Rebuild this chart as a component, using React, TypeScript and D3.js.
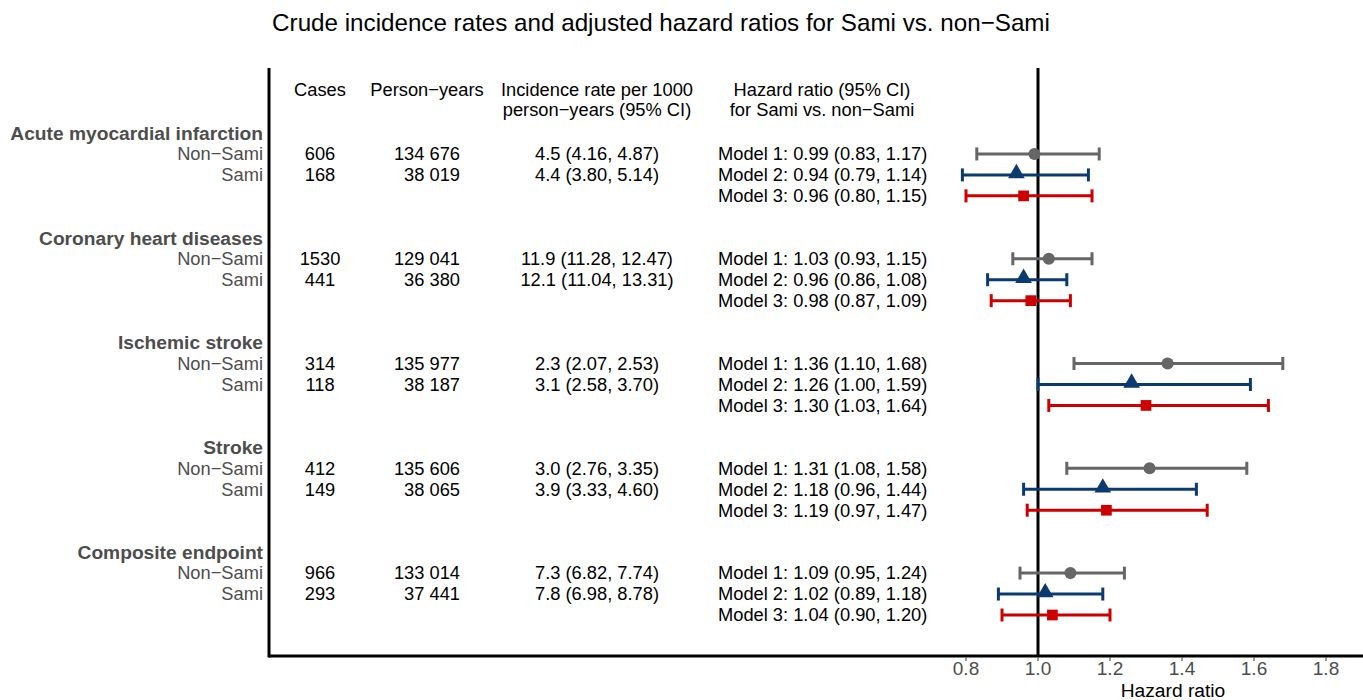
import { useEffect, useRef } from "react";
import * as d3 from "d3";

const outcomes = [
  "Acute myocardial infarction",
  "Coronary heart diseases",
  "Ischemic stroke",
  "Stroke",
  "Composite endpoint",
];
const groups = ["Non−Sami", "Sami"];
const cases = [
  ["606", "168"],
  ["1530", "441"],
  ["314", "118"],
  ["412", "149"],
  ["966", "293"],
];
const personYears = [
  ["134 676", "38 019"],
  ["129 041", "36 380"],
  ["135 977", "38 187"],
  ["135 606", "38 065"],
  ["133 014", "37 441"],
];
const incidence = [
  ["4.5 (4.16, 4.87)", "4.4 (3.80, 5.14)"],
  ["11.9 (11.28, 12.47)", "12.1 (11.04, 13.31)"],
  ["2.3 (2.07, 2.53)", "3.1 (2.58, 3.70)"],
  ["3.0 (2.76, 3.35)", "3.9 (3.33, 4.60)"],
  ["7.3 (6.82, 7.74)", "7.8 (6.98, 8.78)"],
];
// [hr, lower, upper] for model 1..3
const hazard: [number, number, number][][] = [
  [[0.99, 0.83, 1.17], [0.94, 0.79, 1.14], [0.96, 0.8, 1.15]],
  [[1.03, 0.93, 1.15], [0.96, 0.86, 1.08], [0.98, 0.87, 1.09]],
  [[1.36, 1.1, 1.68], [1.26, 1.0, 1.59], [1.3, 1.03, 1.64]],
  [[1.31, 1.08, 1.58], [1.18, 0.96, 1.44], [1.19, 0.97, 1.47]],
  [[1.09, 0.95, 1.24], [1.02, 0.89, 1.18], [1.04, 0.9, 1.2]],
];
const modelColors = ["#666666", "#0b3a6f", "#cc0000"];
const xTicks = [0.8, 1.0, 1.2, 1.4, 1.6, 1.8];

const W = 1363;
const H = 700;
const FONT = "'Liberation Sans', Arial, Helvetica, sans-serif";
const FS = 18.3;

export default function App() {
  const svgRef = useRef<SVGSVGElement>(null);

  useEffect(() => {
    if (!svgRef.current) return;
    const svg = d3.select(svgRef.current);
    svg.selectAll("*").remove();

    const panel = { left: 269, right: W, top: 68, bottom: 656 };
    const x = d3.scaleLinear().domain([0.8, 1.8]).range([966, 1326]);

    // one row for outcome title + three model rows, with a gap row between outcomes
    const rowKeys: string[] = [];
    outcomes.forEach((_, g) => {
      ["t", "m0", "m1", "m2"].forEach((r) => rowKeys.push(`${g}-${r}`));
      if (g < outcomes.length - 1) rowKeys.push(`${g}-gap`);
    });
    const y = d3.scalePoint<string>().domain(rowKeys).range([133, 615]);

    const fmt = d3.format(".2f");
    const col = { label: 263, cases: 320, py: 460, inc: 597, hr: 718, hrHead: 822, pyHead: 427 };

    // title
    svg
      .append("text")
      .attr("x", 661)
      .attr("y", 23)
      .attr("dy", "0.35em")
      .attr("text-anchor", "middle")
      .attr("font-size", 24.2)
      .attr("fill", "#000")
      .text("Crude incidence rates and adjusted hazard ratios for Sami vs. non−Sami");

    // header
    const header = svg.append("g").attr("font-size", FS).attr("fill", "#000").attr("text-anchor", "middle");
    const head = (tx: number, ty: number, s: string) =>
      header.append("text").attr("x", tx).attr("y", ty).attr("dy", "0.35em").text(s);
    head(col.cases, 90, "Cases");
    head(col.pyHead, 90, "Person−years");
    head(col.inc, 90, "Incidence rate per 1000");
    head(col.inc, 110, "person−years (95% CI)");
    head(col.hrHead, 90, "Hazard ratio (95% CI)");
    head(col.hrHead, 110, "for Sami vs. non−Sami");

    // reference line at 1
    svg
      .append("line")
      .attr("x1", x(1))
      .attr("x2", x(1))
      .attr("y1", panel.top)
      .attr("y2", panel.bottom)
      .attr("stroke", "#000")
      .attr("stroke-width", 3);

    const body = svg.append("g").attr("font-size", FS);

    outcomes.forEach((name, g) => {
      body
        .append("text")
        .attr("x", col.label)
        .attr("y", y(`${g}-t`)!)
        .attr("dy", "0.35em")
        .attr("text-anchor", "end")
        .attr("font-weight", "bold")
        .attr("font-size", 19.2)
        .attr("fill", "#4d4d4d")
        .text(name);

      groups.forEach((grp, k) => {
        const yy = y(`${g}-m${k}`)!;
        body.append("text").attr("x", col.label).attr("y", yy).attr("dy", "0.35em")
          .attr("text-anchor", "end").attr("fill", "#4d4d4d").text(grp);
        body.append("text").attr("x", col.cases).attr("y", yy).attr("dy", "0.35em")
          .attr("text-anchor", "middle").text(cases[g][k]);
        body.append("text").attr("x", col.py).attr("y", yy).attr("dy", "0.35em")
          .attr("text-anchor", "end").text(personYears[g][k]);
        body.append("text").attr("x", col.inc).attr("y", yy).attr("dy", "0.35em")
          .attr("text-anchor", "middle").text(incidence[g][k]);
      });

      hazard[g].forEach(([hr, lo, hi], m) => {
        const yy = y(`${g}-m${m}`)!;
        const c = modelColors[m];
        body.append("text").attr("x", col.hr).attr("y", yy).attr("dy", "0.35em")
          .text(`Model ${m + 1}: ${fmt(hr)} (${fmt(lo)}, ${fmt(hi)})`);

        const bar = svg.append("g").attr("stroke", c).attr("stroke-width", 3);
        bar.append("line").attr("x1", x(lo)).attr("x2", x(hi)).attr("y1", yy).attr("y2", yy);
        bar.append("line").attr("x1", x(lo)).attr("x2", x(lo)).attr("y1", yy - 6.5).attr("y2", yy + 6.5);
        bar.append("line").attr("x1", x(hi)).attr("x2", x(hi)).attr("y1", yy - 6.5).attr("y2", yy + 6.5);

        const symType = [d3.symbolCircle, d3.symbolTriangle, d3.symbolSquare][m];
        const symSize = [115, 120, 115][m];
        svg
          .append("path")
          .attr("d", d3.symbol().type(symType).size(symSize)()!)
          .attr("transform", `translate(${x(hr)},${m === 1 ? yy - 1.5 : yy})`)
          .attr("fill", c);
      });
    });

    // axis lines
    svg.append("line").attr("x1", panel.left).attr("x2", panel.left)
      .attr("y1", panel.top).attr("y2", panel.bottom + 1.5)
      .attr("stroke", "#000").attr("stroke-width", 3);
    svg.append("line").attr("x1", panel.left).attr("x2", panel.right)
      .attr("y1", panel.bottom).attr("y2", panel.bottom)
      .attr("stroke", "#000").attr("stroke-width", 3);

    const axis = svg.append("g");
    xTicks.forEach((t) => {
      axis.append("line").attr("x1", x(t)).attr("x2", x(t))
        .attr("y1", panel.bottom + 1.5).attr("y2", panel.bottom + 5)
        .attr("stroke", "#333").attr("stroke-width", 1);
      axis.append("text").attr("x", x(t)).attr("y", 668).attr("dy", "0.35em")
        .attr("text-anchor", "middle").attr("font-size", 19).attr("fill", "#4d4d4d")
        .text(d3.format(".1f")(t));
    });
    svg.append("text").attr("x", 1173).attr("y", 690).attr("dy", "0.35em")
      .attr("text-anchor", "middle").attr("font-size", 19.2).attr("fill", "#000")
      .text("Hazard ratio");
  }, []);

  return (
    <svg
      ref={svgRef}
      width={W}
      height={H}
      style={{ position: "absolute", left: 0, top: 0, background: "#fff", fontFamily: FONT }}
    />
  );
}
